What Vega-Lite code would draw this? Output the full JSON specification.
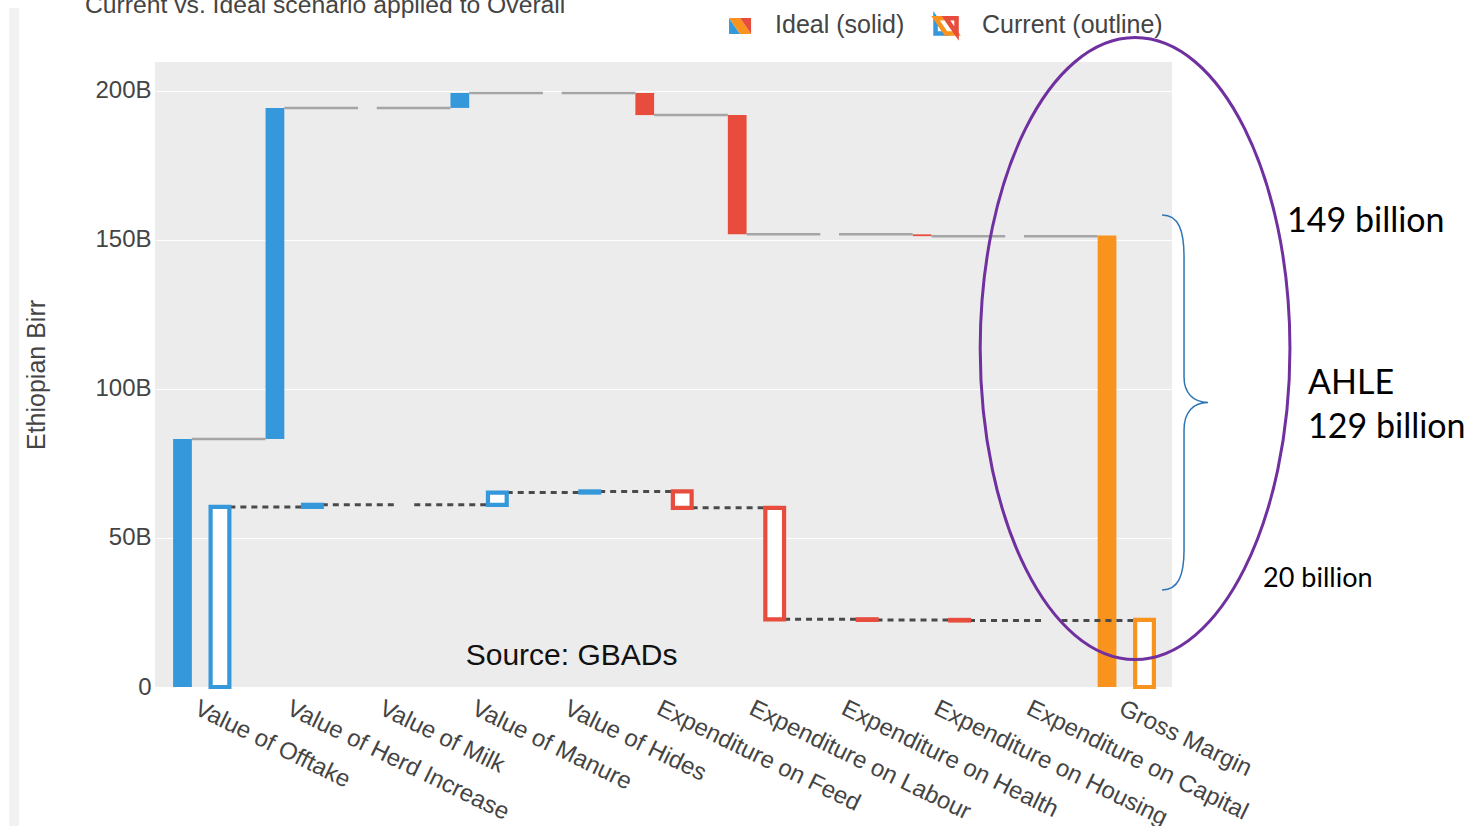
{
  "$schema": "https://vega.github.io/schema/vega-lite/v6.json",
  "width": 1017,
  "height": 625,
  "autosize": {"type": "none"},
  "padding": {"left": 155, "top": 62, "right": 300, "bottom": 139},
  "background": "white",
  "config": {"view": {"fill": "#ECECEC", "stroke": null}, "font": "Liberation Sans"},
  "datasets": {
    "bars": [
      {"cat": "Value of Offtake", "series": "Ideal", "kind": "inc", "start": 0, "end": 83.2},
      {"cat": "Value of Herd Increase", "series": "Ideal", "kind": "inc", "start": 83.2, "end": 194.2},
      {"cat": "Value of Milk", "series": "Ideal", "kind": "inc", "start": 194.2, "end": 194.2},
      {"cat": "Value of Manure", "series": "Ideal", "kind": "inc", "start": 194.2, "end": 199.2},
      {"cat": "Value of Hides", "series": "Ideal", "kind": "inc", "start": 199.2, "end": 199.2},
      {"cat": "Expenditure on Feed", "series": "Ideal", "kind": "dec", "start": 199.2, "end": 191.8},
      {"cat": "Expenditure on Labour", "series": "Ideal", "kind": "dec", "start": 191.8, "end": 151.8},
      {"cat": "Expenditure on Health", "series": "Ideal", "kind": "dec", "start": 151.8, "end": 151.8},
      {"cat": "Expenditure on Housing", "series": "Ideal", "kind": "dec", "start": 151.8, "end": 151.2},
      {"cat": "Expenditure on Capital", "series": "Ideal", "kind": "dec", "start": 151.2, "end": 151.2},
      {"cat": "Gross Margin", "series": "Ideal", "kind": "total", "start": 0, "end": 151.4},
      {"cat": "Value of Offtake", "series": "Current", "kind": "inc", "start": 0, "end": 60.4},
      {"cat": "Value of Herd Increase", "series": "Current", "kind": "inc", "start": 60.4, "end": 61.1},
      {"cat": "Value of Milk", "series": "Current", "kind": "inc", "start": 61.1, "end": 61.1},
      {"cat": "Value of Manure", "series": "Current", "kind": "inc", "start": 61.1, "end": 65.2},
      {"cat": "Value of Hides", "series": "Current", "kind": "inc", "start": 65.2, "end": 65.6},
      {"cat": "Expenditure on Feed", "series": "Current", "kind": "dec", "start": 65.6, "end": 60.1},
      {"cat": "Expenditure on Labour", "series": "Current", "kind": "dec", "start": 60.1, "end": 22.7},
      {"cat": "Expenditure on Health", "series": "Current", "kind": "dec", "start": 22.7, "end": 22.5},
      {"cat": "Expenditure on Housing", "series": "Current", "kind": "dec", "start": 22.5, "end": 22.3},
      {"cat": "Expenditure on Capital", "series": "Current", "kind": "dec", "start": 22.3, "end": 22.3},
      {"cat": "Gross Margin", "series": "Current", "kind": "total", "start": 0, "end": 22.5}
    ],
    "connectors": [
      {"series": "Ideal", "id": 1, "cat": "Value of Offtake", "side": "Ideal-right", "level": 83.2},
      {"series": "Ideal", "id": 1, "cat": "Value of Herd Increase", "side": "Ideal-left", "level": 83.2},
      {"series": "Ideal", "id": 2, "cat": "Value of Herd Increase", "side": "Ideal-right", "level": 194.2},
      {"series": "Ideal", "id": 2, "cat": "Value of Milk", "side": "Ideal-left", "level": 194.2},
      {"series": "Ideal", "id": 3, "cat": "Value of Milk", "side": "Ideal-right", "level": 194.2},
      {"series": "Ideal", "id": 3, "cat": "Value of Manure", "side": "Ideal-left", "level": 194.2},
      {"series": "Ideal", "id": 4, "cat": "Value of Manure", "side": "Ideal-right", "level": 199.2},
      {"series": "Ideal", "id": 4, "cat": "Value of Hides", "side": "Ideal-left", "level": 199.2},
      {"series": "Ideal", "id": 5, "cat": "Value of Hides", "side": "Ideal-right", "level": 199.2},
      {"series": "Ideal", "id": 5, "cat": "Expenditure on Feed", "side": "Ideal-left", "level": 199.2},
      {"series": "Ideal", "id": 6, "cat": "Expenditure on Feed", "side": "Ideal-right", "level": 191.8},
      {"series": "Ideal", "id": 6, "cat": "Expenditure on Labour", "side": "Ideal-left", "level": 191.8},
      {"series": "Ideal", "id": 7, "cat": "Expenditure on Labour", "side": "Ideal-right", "level": 151.8},
      {"series": "Ideal", "id": 7, "cat": "Expenditure on Health", "side": "Ideal-left", "level": 151.8},
      {"series": "Ideal", "id": 8, "cat": "Expenditure on Health", "side": "Ideal-right", "level": 151.8},
      {"series": "Ideal", "id": 8, "cat": "Expenditure on Housing", "side": "Ideal-left", "level": 151.8},
      {"series": "Ideal", "id": 9, "cat": "Expenditure on Housing", "side": "Ideal-right", "level": 151.2},
      {"series": "Ideal", "id": 9, "cat": "Expenditure on Capital", "side": "Ideal-left", "level": 151.2},
      {"series": "Ideal", "id": 10, "cat": "Expenditure on Capital", "side": "Ideal-right", "level": 151.2},
      {"series": "Ideal", "id": 10, "cat": "Gross Margin", "side": "Ideal-left", "level": 151.2},
      {"series": "Current", "id": 11, "cat": "Value of Offtake", "side": "Current-right", "level": 60.4},
      {"series": "Current", "id": 11, "cat": "Value of Herd Increase", "side": "Current-left", "level": 60.4},
      {"series": "Current", "id": 12, "cat": "Value of Herd Increase", "side": "Current-right", "level": 61.1},
      {"series": "Current", "id": 12, "cat": "Value of Milk", "side": "Current-left", "level": 61.1},
      {"series": "Current", "id": 13, "cat": "Value of Milk", "side": "Current-right", "level": 61.1},
      {"series": "Current", "id": 13, "cat": "Value of Manure", "side": "Current-left", "level": 61.1},
      {"series": "Current", "id": 14, "cat": "Value of Manure", "side": "Current-right", "level": 65.2},
      {"series": "Current", "id": 14, "cat": "Value of Hides", "side": "Current-left", "level": 65.2},
      {"series": "Current", "id": 15, "cat": "Value of Hides", "side": "Current-right", "level": 65.6},
      {"series": "Current", "id": 15, "cat": "Expenditure on Feed", "side": "Current-left", "level": 65.6},
      {"series": "Current", "id": 16, "cat": "Expenditure on Feed", "side": "Current-right", "level": 60.1},
      {"series": "Current", "id": 16, "cat": "Expenditure on Labour", "side": "Current-left", "level": 60.1},
      {"series": "Current", "id": 17, "cat": "Expenditure on Labour", "side": "Current-right", "level": 22.7},
      {"series": "Current", "id": 17, "cat": "Expenditure on Health", "side": "Current-left", "level": 22.7},
      {"series": "Current", "id": 18, "cat": "Expenditure on Health", "side": "Current-right", "level": 22.5},
      {"series": "Current", "id": 18, "cat": "Expenditure on Housing", "side": "Current-left", "level": 22.5},
      {"series": "Current", "id": 19, "cat": "Expenditure on Housing", "side": "Current-right", "level": 22.3},
      {"series": "Current", "id": 19, "cat": "Expenditure on Capital", "side": "Current-left", "level": 22.3},
      {"series": "Current", "id": 20, "cat": "Expenditure on Capital", "side": "Current-right", "level": 22.3},
      {"series": "Current", "id": 20, "cat": "Gross Margin", "side": "Current-left", "level": 22.3}
    ],
    "legendParts": [
      {"part": "inc"},
      {"part": "total"},
      {"part": "dec"}
    ]
  },
  "resolve": {"scale": {"xOffset": "independent"}},
  "layer": [
    {
      "data": {"name": "bars"},
      "transform": [{"filter": "datum.series === 'Ideal' && datum.start !== datum.end"}],
      "mark": {"type": "bar"},
      "encoding": {
        "x": {
          "field": "cat", "type": "nominal",
          "scale": {
            "domain": ["Value of Offtake", "Value of Herd Increase", "Value of Milk", "Value of Manure", "Value of Hides", "Expenditure on Feed", "Expenditure on Labour", "Expenditure on Health", "Expenditure on Housing", "Expenditure on Capital", "Gross Margin"],
            "paddingInner": 0.189, "paddingOuter": 0.0945
          },
          "axis": {
            "title": null, "ticks": false, "domain": false, "grid": false,
            "labelAngle": 26, "labelAlign": "left", "labelBaseline": "top",
            "labelFontSize": 24, "labelColor": "#444", "labelPadding": 9,
            "labelLimit": 500, "labelOverlap": false, "labelFont": "Liberation Sans"
          }
        },
        "xOffset": {"field": "series", "type": "nominal", "scale": {"domain": ["Ideal", "Current"], "paddingInner": 0.5, "paddingOuter": 0.25}},
        "y": {
          "field": "start", "type": "quantitative",
          "scale": {"domain": [0, 209.6], "nice": false, "zero": true},
          "axis": {
            "title": "Ethiopian Birr", "values": [0, 50, 100, 150, 200],
            "labelExpr": "datum.value === 0 ? '0' : datum.value + 'B'",
            "grid": true, "gridColor": "white", "gridWidth": 1.2,
            "domain": false, "ticks": false, "labelPadding": 4,
            "labelFontSize": 24, "labelColor": "#444", "labelFont": "Liberation Sans",
            "titleFontSize": 25, "titleFontWeight": "normal", "titleColor": "#444",
            "titleFont": "Liberation Sans", "titlePadding": 45
          }
        },
        "y2": {"field": "end"},
        "color": {"field": "kind", "type": "nominal", "scale": {"domain": ["inc", "dec", "total"], "range": ["#3498DB", "#E74C3C", "#F8941E"]}, "legend": null}
      }
    },
    {
      "data": {"name": "connectors"},
      "transform": [{"filter": "datum.series === 'Ideal'"}],
      "mark": {"type": "line", "color": "#A5A5A5", "strokeWidth": 2.5},
      "encoding": {
        "x": {"field": "cat", "type": "nominal"},
        "xOffset": {"field": "side", "type": "nominal", "scale": {"type": "point", "domain": ["Ideal-left", "Ideal-right", "Current-left", "Current-right"], "padding": 0.5}},
        "y": {"field": "level", "type": "quantitative"},
        "detail": {"field": "id", "type": "nominal"}
      }
    },
    {
      "data": {"name": "connectors"},
      "transform": [{"filter": "datum.series === 'Current'"}],
      "mark": {"type": "line", "color": "#4A4A4A", "strokeWidth": 3, "strokeDash": [6, 5]},
      "encoding": {
        "x": {"field": "cat", "type": "nominal"},
        "xOffset": {"field": "side", "type": "nominal", "scale": {"type": "point", "domain": ["Ideal-left", "Ideal-right", "Current-left", "Current-right"], "padding": 0.5}},
        "y": {"field": "level", "type": "quantitative"},
        "detail": {"field": "id", "type": "nominal"}
      }
    },
    {
      "data": {"name": "bars"},
      "transform": [{"filter": "datum.series === 'Current' && datum.start !== datum.end"}],
      "mark": {"type": "bar", "fill": "white", "strokeWidth": 4.2},
      "encoding": {
        "x": {"field": "cat", "type": "nominal"},
        "xOffset": {"field": "series", "type": "nominal", "scale": {"domain": ["Ideal", "Current"], "paddingInner": 0.5, "paddingOuter": 0.25}},
        "y": {"field": "start", "type": "quantitative"},
        "y2": {"field": "end"},
        "stroke": {"field": "kind", "type": "nominal", "scale": {"domain": ["inc", "dec", "total"], "range": ["#3498DB", "#E74C3C", "#F8941E"]}, "legend": null}
      }
    },
    {
      "data": {"values": [{}]},
      "mark": {"type": "rule", "color": "#F2F2F2", "strokeWidth": 10},
      "encoding": {
        "x": {"datum": "Value of Offtake", "type": "nominal", "bandPosition": -1.996},
        "y": {"datum": 227.7, "type": "quantitative"},
        "y2": {"datum": -46.6}
      }
    },
    {
      "data": {"name": "legendParts"},
      "mark": {"type": "point", "filled": true, "size": 484, "opacity": 1},
      "encoding": {
        "x": {"datum": "Expenditure on Labour", "type": "nominal", "bandPosition": 0.288},
        "y": {"datum": 221.7, "type": "quantitative"},
        "shape": {"field": "part", "type": "nominal", "scale": {"domain": ["inc", "total", "dec"], "range": ["M-1,-0.727L-1,0.727L0,0.727Z", "M1,0.727L0,0.727L-1,-0.727L0,-0.727Z", "M1,0.727L1,-0.727L0,-0.727Z"]}, "legend": null},
        "color": {"field": "part", "type": "nominal", "legend": null}
      }
    },
    {
      "data": {"name": "legendParts"},
      "mark": {"type": "point", "filled": true, "fill": "white", "size": 441, "strokeWidth": 4.5, "strokeJoin": "miter", "opacity": 1},
      "encoding": {
        "x": {"datum": "Expenditure on Housing", "type": "nominal", "bandPosition": 0.569},
        "y": {"datum": 221.7, "type": "quantitative"},
        "shape": {"field": "part", "type": "nominal", "legend": null},
        "stroke": {"field": "part", "type": "nominal", "legend": null}
      }
    },
    {
      "data": {"values": [{}]},
      "mark": {"type": "text", "text": "Ideal (solid)", "align": "left", "baseline": "alphabetic", "dx": 19.1, "fontSize": 25, "font": "Liberation Sans", "color": "#444"},
      "encoding": {
        "x": {"datum": "Expenditure on Labour", "type": "nominal"},
        "y": {"datum": 219.35, "type": "quantitative"}
      }
    },
    {
      "data": {"values": [{}]},
      "mark": {"type": "text", "text": "Current (outline)", "align": "left", "baseline": "alphabetic", "dx": 41.2, "fontSize": 25, "font": "Liberation Sans", "color": "#444"},
      "encoding": {
        "x": {"datum": "Expenditure on Housing", "type": "nominal"},
        "y": {"datum": 219.35, "type": "quantitative"}
      }
    },
    {
      "data": {"values": [{}]},
      "mark": {"type": "text", "text": "Current vs. Ideal scenario applied to Overall", "align": "left", "baseline": "alphabetic", "dx": -116.2, "fontSize": 24.7, "font": "Liberation Sans", "color": "#444"},
      "encoding": {
        "x": {"datum": "Value of Offtake", "type": "nominal"},
        "y": {"datum": 226.0, "type": "quantitative"}
      }
    },
    {
      "data": {"values": [{}]},
      "mark": {"type": "text", "text": "Source: GBADs", "align": "center", "baseline": "middle", "fontSize": 30, "font": "Liberation Sans", "color": "#111"},
      "encoding": {
        "x": {"datum": "Value of Manure", "type": "nominal", "bandPosition": 1.74},
        "y": {"datum": 10.3, "type": "quantitative"}
      }
    },
    {
      "data": {"values": [{}]},
      "mark": {"type": "point", "shape": "M0,-1C0.275,-1 0.498,-0.552 0.498,0C0.498,0.552 0.275,1 0,1C-0.275,1 -0.498,0.552 -0.498,0C-0.498,-0.552 -0.275,-1 0,-1Z", "size": 386884, "filled": false, "stroke": "#7030A0", "strokeWidth": 3, "opacity": 1},
      "encoding": {
        "x": {"datum": "Gross Margin", "type": "nominal", "bandPosition": 0.624},
        "y": {"datum": 113.5, "type": "quantitative"}
      }
    },
    {
      "data": {"values": [{}]},
      "mark": {"type": "point", "shape": "M-0.117,-1C-0.03,-1 0,-0.92 0,-0.776L0,-0.136C0,-0.05 0.05,0 0.128,0C0.05,0 0,0.05 0,0.147L0,0.787C0,0.92 -0.03,1 -0.117,1", "size": 140625, "filled": false, "stroke": "#2E75B6", "strokeWidth": 1.5, "opacity": 1},
      "encoding": {
        "x": {"datum": "Gross Margin", "type": "nominal", "bandPosition": 1.277},
        "y": {"datum": 95.4, "type": "quantitative"}
      }
    },
    {
      "data": {"values": [{}]},
      "mark": {"type": "text", "text": "149 billion", "align": "left", "baseline": "alphabetic", "dx": 161.3, "fontSize": 34, "font": "Lato", "color": "black"},
      "encoding": {
        "x": {"datum": "Gross Margin", "type": "nominal"},
        "y": {"datum": 152.6, "type": "quantitative"}
      }
    },
    {
      "data": {"values": [{}]},
      "mark": {"type": "text", "text": "AHLE", "align": "left", "baseline": "alphabetic", "dx": 182.3, "fontSize": 34, "font": "Lato", "color": "black"},
      "encoding": {
        "x": {"datum": "Gross Margin", "type": "nominal"},
        "y": {"datum": 98.3, "type": "quantitative"}
      }
    },
    {
      "data": {"values": [{}]},
      "mark": {"type": "text", "text": "129 billion", "align": "left", "baseline": "alphabetic", "dx": 182.3, "fontSize": 34, "font": "Lato", "color": "black"},
      "encoding": {
        "x": {"datum": "Gross Margin", "type": "nominal"},
        "y": {"datum": 83.5, "type": "quantitative"}
      }
    },
    {
      "data": {"values": [{}]},
      "mark": {"type": "text", "text": "20 billion", "align": "left", "baseline": "alphabetic", "dx": 137.3, "fontSize": 27, "font": "Lato", "color": "black"},
      "encoding": {
        "x": {"datum": "Gross Margin", "type": "nominal"},
        "y": {"datum": 33.5, "type": "quantitative"}
      }
    }
  ]
}
